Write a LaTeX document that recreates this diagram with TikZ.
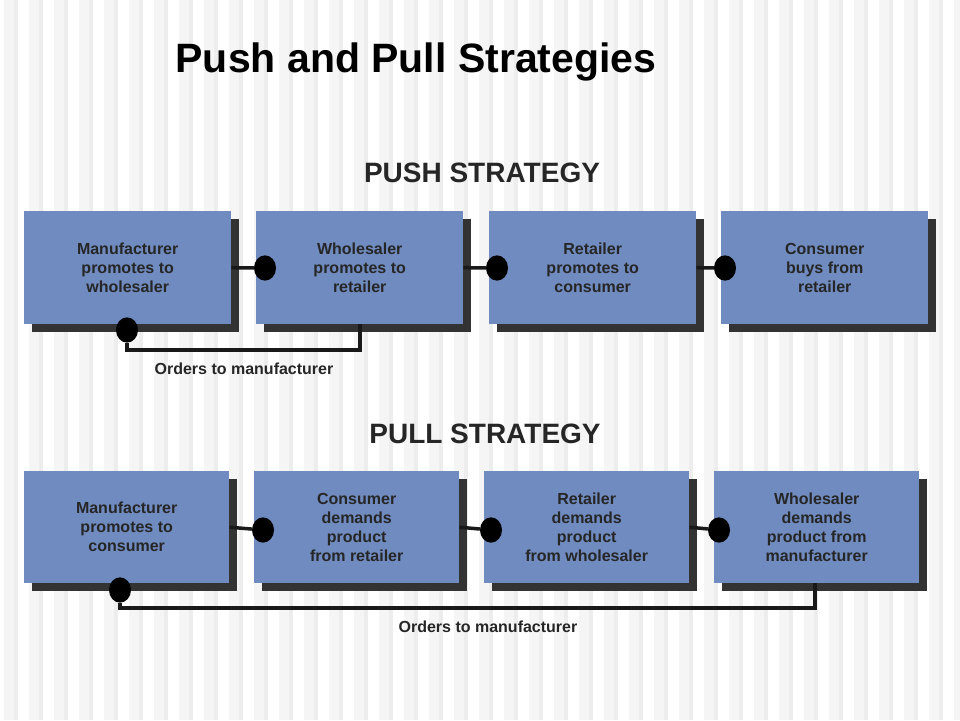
\documentclass[tikz,border=0pt]{standalone}
\usepackage{fontspec}
\setmainfont{Liberation Sans}
\begin{document}
\begin{tikzpicture}[x=1pt,y=-1pt,
  box/.style={draw=none,fill=boxblue,minimum width=207pt,minimum height=113pt,anchor=north west,inner sep=0pt,
    font=\fontsize{16}{19}\selectfont\bfseries,text=black!85,align=center},
  shad/.style={fill=black!80,draw=none},
  dot/.style={circle,fill=black,minimum width=22pt,minimum height=22pt,inner sep=0pt,yscale=1.15},
  con/.style={line width=3.5pt,draw=black!90},
  lbl/.style={font=\fontsize{16}{19}\selectfont\bfseries,text=black!85},
  head/.style={font=\fontsize{28}{32}\selectfont\bfseries,text=black!85}]
\definecolor{boxblue}{HTML}{6F8BBF}
\useasboundingbox (0,0) rectangle (960,720);
\fill[white] (0,0) rectangle (960,720);
\foreach \i in {0,...,38}{
  \fill[black!4] (\i*25+4,0) rectangle (\i*25+14,720);
  \fill[black!7] (\i*25+14,0) rectangle (\i*25+18,720);
}
\node[head,font=\fontsize{41}{46}\selectfont\bfseries,text=black] (title) at (416,62) {Push and Pull Strategies};
\node[head] (hpush) at (482,173) {PUSH STRATEGY};
\node[head] (hpull) at (485,434) {PULL STRATEGY};
% push
\foreach \x in {24,256,489,721}{\fill[shad] (\x+8,219) rectangle (\x+215,332);}
\node[box] (a1) at (24,211) {Manufacturer\\promotes to\\wholesaler};
\node[box] (a2) at (256,211) {Wholesaler\\promotes to\\retailer};
\node[box] (a3) at (489,211) {Retailer\\promotes to\\consumer};
\node[box] (a4) at (721,211) {Consumer\\buys from\\retailer};
\node[dot] (d1) at (265,268) {};
\node[dot] (d2) at (497,268) {};
\node[dot] (d3) at (725,268) {};
\node[dot] (d4) at (127,330) {};
\draw[con] (a1.east) -- (d1); \draw[con] (a2.east) -- (d2); \draw[con] (a3.east) -- (d3);
\coordinate (c1) at (360,324);
\draw[con] (d4) |- (360,350) -- (c1);
\node[lbl] (o1) at (244,369) {Orders to manufacturer};
% pull
\foreach \x in {24,254,484,714}{\fill[shad] (\x+8,479) rectangle (\x+213,591);}
\tikzset{box/.append style={minimum width=205pt,minimum height=112pt}}
\node[box] (b1) at (24,471) {Manufacturer\\promotes to\\consumer};
\node[box] (b2) at (254,471) {Consumer\\demands\\product\\from retailer};
\node[box] (b3) at (484,471) {Retailer\\demands\\product\\from wholesaler};
\node[box] (b4) at (714,471) {Wholesaler\\demands\\product from\\manufacturer};
\node[dot] (e1) at (263,530) {};
\node[dot] (e2) at (491,530) {};
\node[dot] (e3) at (719,530) {};
\node[dot] (e4) at (120,590) {};
\draw[con] (b1.east) -- (e1); \draw[con] (b2.east) -- (e2); \draw[con] (b3.east) -- (e3);
\coordinate (c2) at (815,583);
\draw[con] (e4) |- (815,608) -- (c2);
\node[lbl] (o2) at (488,627) {Orders to manufacturer};
\end{tikzpicture}
\end{document}
